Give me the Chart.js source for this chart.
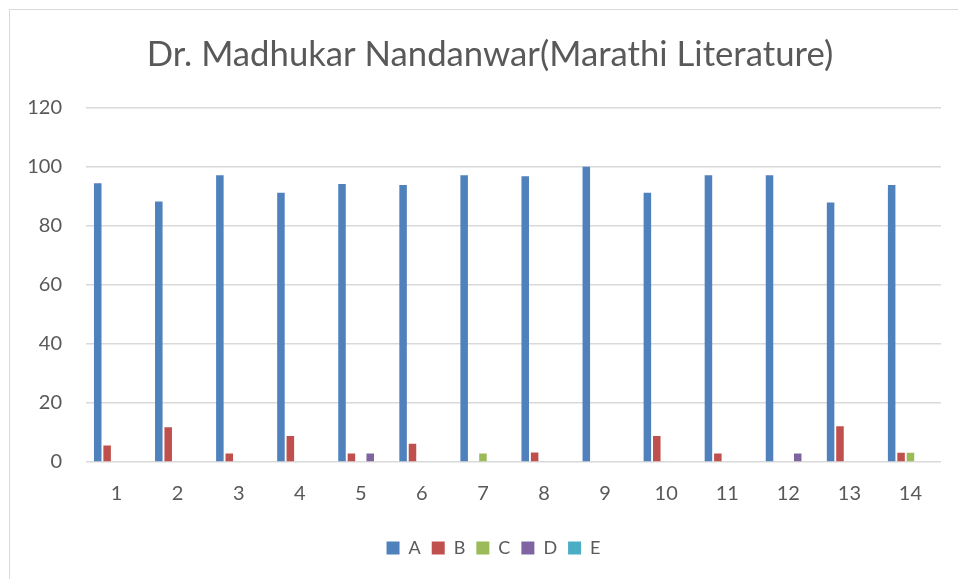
<!DOCTYPE html>
<html lang="en">
<head>
    <meta charset="UTF-8">
    <title>Chart</title>
    <style>
        html, body { margin: 0; padding: 0; background: #fff; overflow: hidden; }
        #frame {
            position: absolute; left: 9px; top: 9px; width: 960px; height: 580px;
            border-left: 1px solid #d9d9d9; border-top: 1px solid #d9d9d9;
        }
        #wrap { position: absolute; left: 0; top: 0; width: 958px; height: 579px; }
    </style>
</head>
<body>
    <div id="frame"></div>
    <div id="wrap"><canvas id="chart"></canvas></div>
    <script src="https://cdn.jsdelivr.net/npm/chart.js"></script>
    <script>
        const categories = ["1", "2", "3", "4", "5", "6", "7", "8", "9", "10", "11", "12", "13", "14"]
        const seriesA = [94.4, 88.2, 97.1, 91.2, 94.1, 93.8, 97.1, 96.8, 100, 91.2, 97.1, 97.1, 87.9, 93.8]
        const seriesB = [5.6, 11.8, 2.9, 8.8, 2.9, 6.2, 0, 3.2, 0, 8.8, 2.9, 0, 12.1, 3.1]
        const seriesC = [0, 0, 0, 0, 0, 0, 2.9, 0, 0, 0, 0, 0, 0, 3.1]
        const seriesD = [0, 0, 0, 0, 2.9, 0, 0, 0, 0, 0, 0, 2.9, 0, 0]
        const seriesE = [0, 0, 0, 0, 0, 0, 0, 0, 0, 0, 0, 0, 0, 0]
        const yTicks = [0, 20, 40, 60, 80, 100, 120]

        const textColor = '#595959'
        const font = 'Lato'

        function makeSet(label, data, color) {
            return {
                label: label,
                data: data,
                backgroundColor: color,
                borderWidth: 0,
                barPercentage: 0.8,
                categoryPercentage: 0.77
            }
        }

        // the original centres title and legend a bit right of the canvas middle
        const shiftBlocks = {
            id: 'shiftBlocks',
            afterLayout(chart) {
                if (chart.titleBlock) chart.titleBlock.left += 39
                if (chart.legend) chart.legend.left += 46
            }
        }

        new Chart(document.getElementById('chart'), {
            type: 'bar',
            data: {
                labels: categories,
                datasets: [
                    makeSet('A', seriesA, '#4f81bd'),
                    makeSet('B', seriesB, '#c0504d'),
                    makeSet('C', seriesC, '#9bbb59'),
                    makeSet('D', seriesD, '#8064a2'),
                    makeSet('E', seriesE, '#4bacc6')
                ]
            },
            plugins: [shiftBlocks],
            options: {
                responsive: true,
                maintainAspectRatio: false,
                animation: false,
                layout: { padding: { left: 0, right: 17, top: 0, bottom: 12 } },
                plugins: {
                    title: {
                        display: true,
                        text: 'Dr. Madhukar Nandanwar(Marathi Literature)',
                        color: textColor,
                        font: { family: font, size: 34.7, weight: 'normal' },
                        padding: { top: 34, bottom: 32 }
                    },
                    legend: {
                        position: 'bottom',
                        labels: {
                            color: textColor,
                            font: { family: font, size: 18 },
                            boxWidth: 13,
                            boxHeight: 13,
                            padding: 11
                        }
                    },
                    tooltip: { enabled: false }
                },
                scales: {
                    x: {
                        afterFit: (axis) => { axis.height += 10 },
                        grid: { display: false },
                        border: { display: false },
                        ticks: { color: textColor, font: { family: font, size: 20 }, padding: 12 }
                    },
                    y: {
                        min: 0,
                        max: 120,
                        afterBuildTicks: (axis) => { axis.ticks = yTicks.map(v => ({ value: v })) },
                        afterFit: (axis) => { axis.width = 86 },
                        grid: { color: '#d9d9d9', lineWidth: 1.5, drawTicks: false },
                        border: { display: false },
                        ticks: { color: textColor, font: { family: font, size: 20 }, padding: 24 }
                    }
                }
            }
        })
    </script>
</body>
</html>
